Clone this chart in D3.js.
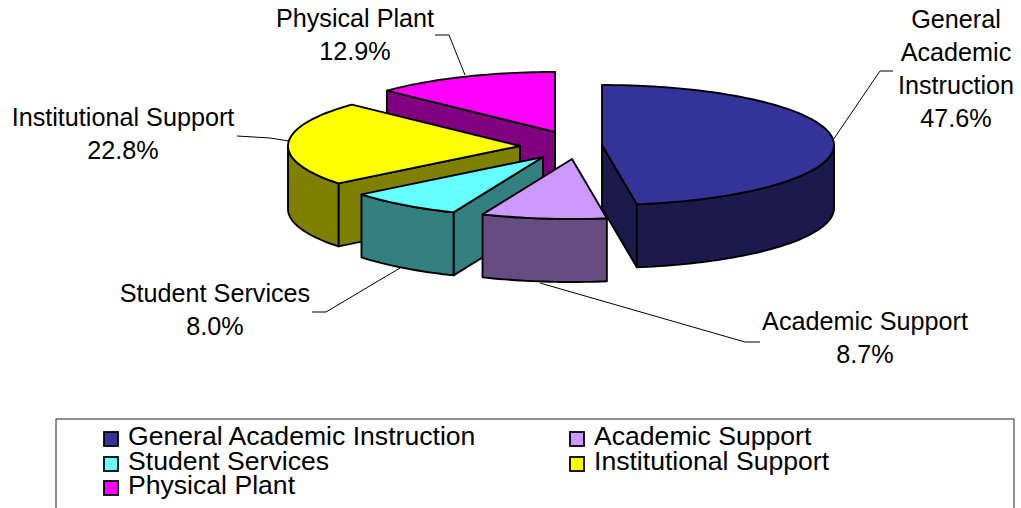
<!DOCTYPE html>
<html><head><meta charset="utf-8">
<script src="https://cdn.jsdelivr.net/npm/d3@7/dist/d3.min.js"></script>
<style>html,body{margin:0;padding:0;background:#fff}svg{display:block}text{font-family:"Liberation Sans",Arial,sans-serif;fill:#000}</style>
</head><body><svg id="c" width="1021" height="508"></svg>
<script>
const categories=["General Academic Instruction","Academic Support","Student Services","Institutional Support","Physical Plant"];
const values=[47.6,8.7,8.0,22.8,12.9];
const topColors=["#333399","#CC99FF","#66FFFF","#FFFF00","#FF00FF"];
const sideColors=["#1A1A4D","#664C80","#338080","#808000","#800080"];
const labelLines=[["General","Academic","Instruction","47.6%"],["Academic Support","8.7%"],["Student Services","8.0%"],["Institutional Support","22.8%"],["Physical Plant","12.9%"]];

// layout
const apexX=[602,572,543,520,555];
const apexY=[145,159,157,146,132];
const labelX=[956,865,215,123,355];
const labelY=[27.5,330,301.5,126,27];
const leaders=[[[833,140],[880,71],[893,71]],[[540,283],[745,342],[760,342]],[[400,268],[326,312],[312,312]],[[289,141],[270,138],[237,136]],[[465,75],[449,35],[435,35]]];
const legendX=[104,570,104,570,104];
const legendY=[432,432,457,457,481];
const RX=232,RY=60,DEPTH=63,LINE=33;

const svg=d3.select("#c");
const arcs=d3.pie().sort(null).value(d=>d)(values);
const rx=d3.scaleLinear().domain([-1,1]).range([-RX,RX]);
const ry=d3.scaleLinear().domain([-1,1]).range([-RY,RY]);
const pt=(i,a,dz=0)=>[apexX[i]+rx(Math.sin(a)),apexY[i]-ry(Math.cos(a))+dz];
const line=d3.line();
const sample=(a0,a1)=>{const n=Math.max(2,Math.ceil(Math.abs(a1-a0)*40));return d3.range(n+1).map(k=>a0+(a1-a0)*k/n);};
const PI=Math.PI;
const drawOrder=[4,0,3,2,1];
const g=svg.append("g");
const st=s=>s.attr("stroke","#000").attr("stroke-width",1.9).attr("stroke-linejoin","round");
drawOrder.forEach(i=>{
  const {startAngle:a0,endAngle:a1}=arcs[i];
  const A=[apexX[i],apexY[i]];
  const A2=[A[0],A[1]+DEPTH];
  const quad=a=>line([A,pt(i,a),pt(i,a,DEPTH),A2])+"Z";
  // cut faces that look toward the viewer
  if(Math.cos(a0-PI/2)<0||i===4) st(g.append("path").attr("d",quad(a0)).attr("fill",sideColors[i]));
  if(Math.cos(a1+PI/2)<0||i===4) st(g.append("path").attr("d",quad(a1)).attr("fill",sideColors[i]));
  // outer wall, front half of the rim
  const w0=Math.max(a0,PI/2),w1=Math.min(a1,3*PI/2);
  if(w1>w0){
    const s=sample(w0,w1);
    const d=line(s.map(a=>pt(i,a)).concat(s.slice().reverse().map(a=>pt(i,a,DEPTH))))+"Z";
    st(g.append("path").attr("d",d).attr("fill",sideColors[i]));
  }
  // top face
  st(g.append("path").attr("d",line([A].concat(sample(a0,a1).map(a=>pt(i,a))))+"Z").attr("fill",topColors[i]));
});
// leader lines
const lg=svg.append("g");
leaders.forEach(l=>lg.append("path").attr("d",line(l)).attr("fill","none").attr("stroke","#000").attr("stroke-width",1));
// data labels
labelLines.forEach((ls,i)=>{
  ls.forEach((t,k)=>svg.append("text").attr("x",labelX[i]).attr("y",labelY[i]+k*LINE).attr("text-anchor","middle").attr("font-size",25.2).text(t));
});
// legend
svg.append("path").attr("d","M56,508V419H1014V508").attr("fill","none").attr("stroke","#222").attr("stroke-width",1);
categories.forEach((c,i)=>{
  svg.append("rect").attr("x",legendX[i]).attr("y",legendY[i]).attr("width",14).attr("height",14).attr("fill",topColors[i]).attr("stroke","#000").attr("stroke-width",1.8);
  svg.append("text").attr("x",legendX[i]+24).attr("y",legendY[i]+13).attr("font-size",26.6).text(c);
});
</script></body></html>
